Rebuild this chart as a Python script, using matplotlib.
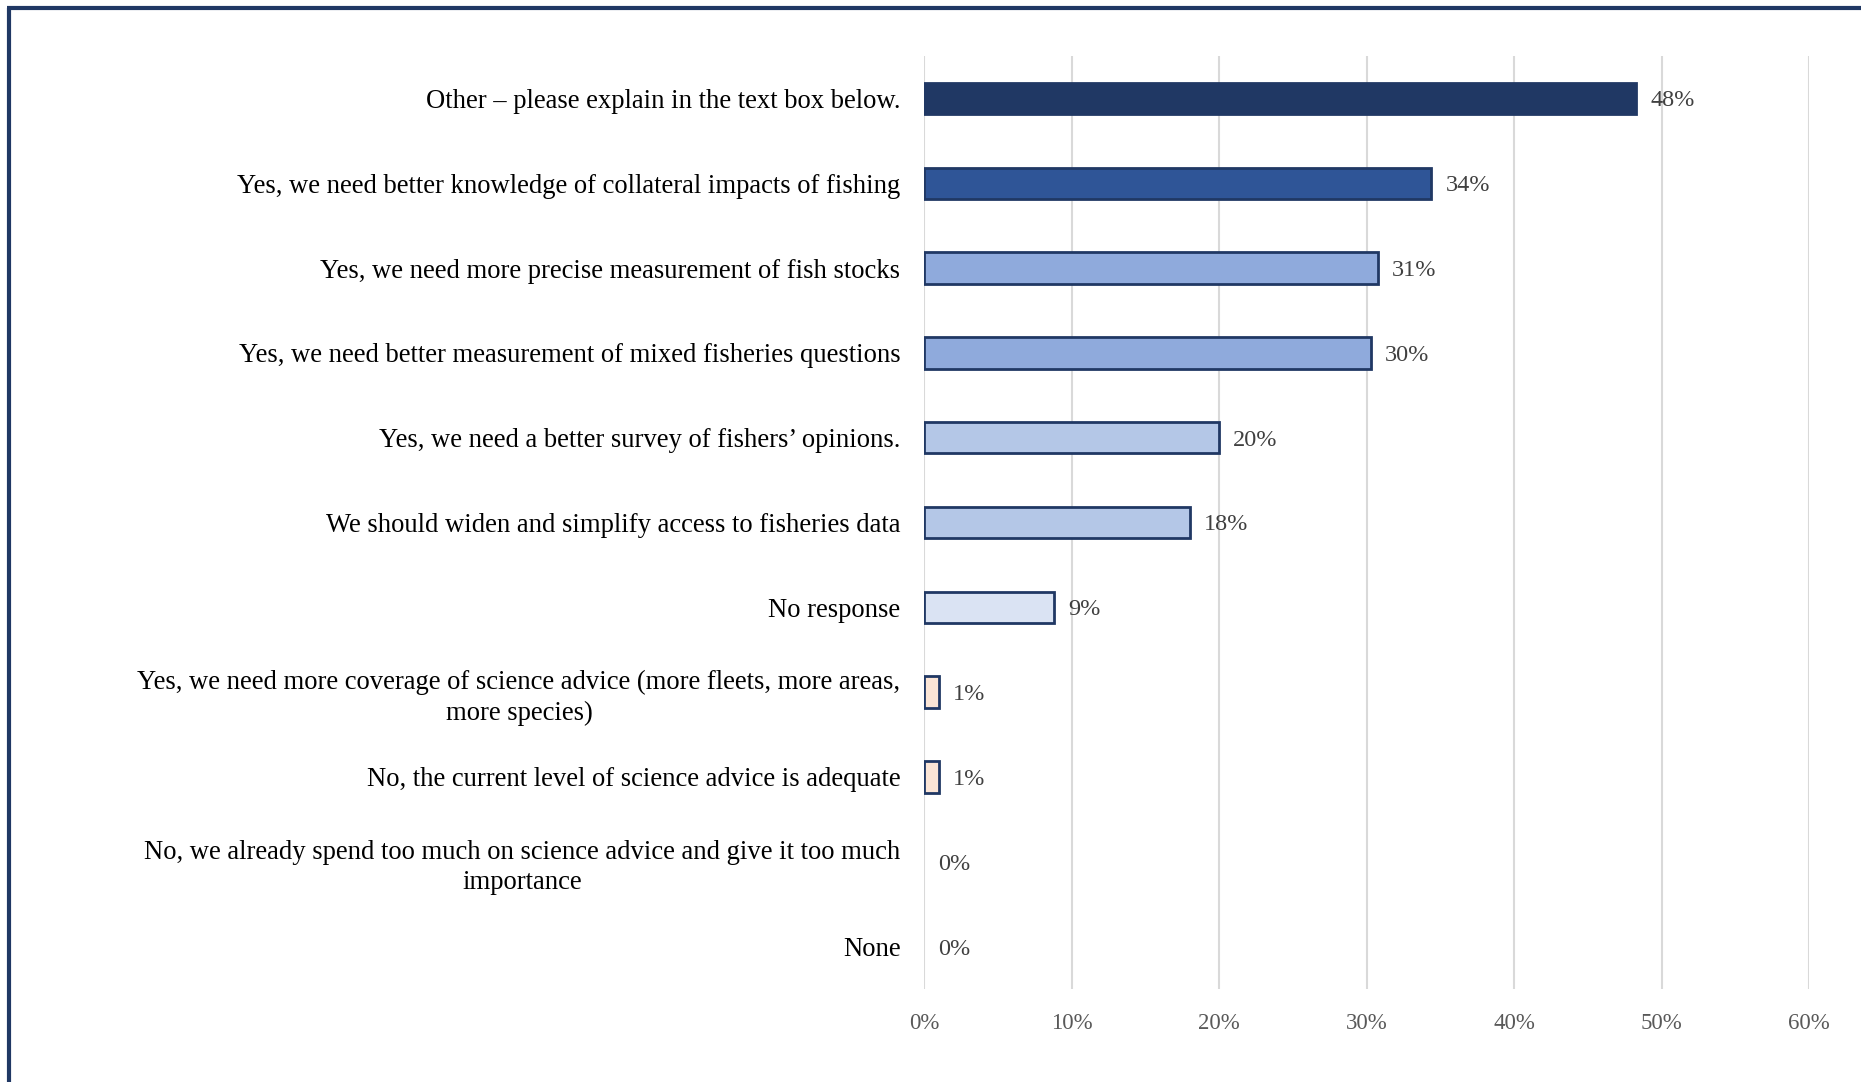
import matplotlib
matplotlib.use("Agg")
import matplotlib.pyplot as plt
from matplotlib.lines import Line2D

categories = [
    "Other \u2013 please explain in the text box below.",
    "Yes, we need better knowledge of collateral impacts of fishing",
    "Yes, we need more precise measurement of fish stocks",
    "Yes, we need better measurement of mixed fisheries questions",
    "Yes, we need a better survey of fishers\u2019 opinions.",
    "We should widen and simplify access to fisheries data",
    "No response",
    "Yes, we need more coverage of science advice (more fleets, more areas,\nmore species)",
    "No, the current level of science advice is adequate",
    "No, we already spend too much on science advice and give it too much\nimportance",
    "None",
]
values = [48.3, 34.4, 30.8, 30.3, 20.0, 18.0, 8.8, 1.0, 1.0, 0.0, 0.0]
value_labels = ["48%", "34%", "31%", "30%", "20%", "18%", "9%", "1%", "1%", "0%", "0%"]
bar_colors = ["#203864", "#2F5597", "#8FAADC", "#8FAADC", "#B4C7E7", "#B4C7E7",
              "#DAE3F3", "#FBE5D6", "#FBE5D6", "#FBE5D6", "#FBE5D6"]
xticks = [0, 10, 20, 30, 40, 50, 60]
xtick_labels = ["0%", "10%", "20%", "30%", "40%", "50%", "60%"]

plt.rcParams['font.family'] = ['Liberation Serif', 'DejaVu Serif']

fig = plt.figure(figsize=(18.61, 10.82), dpi=100)
ax = fig.add_axes([924/1861, 1-989/1082, (1809-924)/1861, (989-56)/1082])

ypos = list(range(len(categories)))
for y, v, c in zip(ypos, values, bar_colors):
    if v > 0:
        ax.barh(y, v, height=0.37, color=c, edgecolor="#203864", linewidth=2.0, zorder=3)

for y, v, lab in zip(ypos, values, value_labels):
    ax.annotate(lab, xy=(v, y), xytext=(14, 0), textcoords="offset pixels",
                ha="left", va="center_baseline", fontsize=17.5, color="#404040", zorder=4)

ax.set_ylim(len(categories) - 0.5, -0.5)
ax.set_xlim(0, 60)
ax.set_xticks(xticks)
ax.set_xticklabels(xtick_labels, fontsize=16.5, color="#595959")
ax.set_yticks(ypos)
ax.set_yticklabels(categories, fontsize=19.2, color="black", multialignment="center",
                   linespacing=1.3)
ax.tick_params(axis="both", length=0)
ax.tick_params(axis="y", pad=17)
ax.tick_params(axis="x", pad=17)
ax.grid(axis="x", color="#D9D9D9", linewidth=1.5, zorder=0)
for s in ax.spines.values():
    s.set_visible(False)

# Outer border (left and top only)
fig.add_artist(Line2D([9/1861, 9/1861], [0, 1-7.5/1082], transform=fig.transFigure,
                      color="#203864", linewidth=3, solid_capstyle="butt"))
fig.add_artist(Line2D([7/1861, 1], [1-7.5/1082, 1-7.5/1082], transform=fig.transFigure,
                      color="#203864", linewidth=3, solid_capstyle="butt"))

fig.savefig("out.png", dpi=100, facecolor="white")
